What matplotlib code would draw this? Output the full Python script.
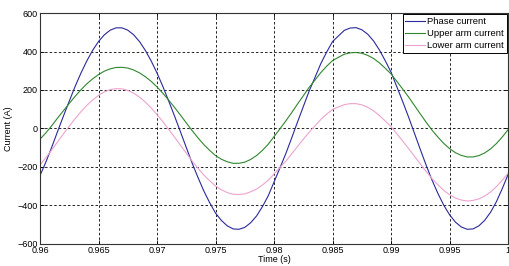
import numpy as np
import matplotlib
matplotlib.use('Agg')
import matplotlib.pyplot as plt

# time axis (s), 0.5 ms samples
time_s = [0.960 + 0.0005 * i for i in range(81)]

phase_current = [-245, -175, -98, -16, 64, 142, 218, 288, 351, 406,
                 452, 487, 511, 523, 523, 511, 487, 452, 406, 351,
                 288, 218, 142, 64, -17, -99, -180, -255, -325, -386,
                 -440, -478, -506, -522, -524, -514, -490, -455, -407, -350,
                 -278, -205, -131, -50, 33, 114, 195, 266, 338, 398,
                 452, 481, 510, 522, 524, 513, 490, 455, 408, 352,
                 292, 215, 138, 58, -26, -110, -192, -269, -338, -399,
                 -449, -487, -512, -524, -522, -506, -477, -435, -380, -312,
                 -238]

upper_arm_current = [-56, -23, 14, 54, 92, 130, 167, 201, 232, 258,
                     280, 298, 310, 317, 318, 314, 304, 289, 269, 245,
                     216, 183, 147, 109, 70, 29, -11, -49, -84, -114,
                     -141, -160, -173, -181, -181, -175, -161, -141, -114, -82,
                     -42, -2, 39, 82, 127, 170, 214, 252, 291, 324,
                     353, 370, 386, 393, 395, 391, 380, 364, 341, 313,
                     283, 244, 204, 163, 119, 75, 32, -9, -45, -78,
                     -105, -126, -140, -148, -148, -141, -127, -106, -78, -44,
                     -6]

lower_arm_current = [-189, -152, -112, -70, -28, 12, 51, 87, 120, 148,
                     172, 190, 202, 207, 206, 198, 184, 163, 137, 107,
                     72, 35, -5, -45, -87, -128, -169, -207, -242, -272,
                     -299, -319, -333, -342, -343, -340, -329, -315, -294, -269,
                     -236, -203, -170, -132, -94, -56, -19, 14, 47, 75,
                     99, 112, 124, 129, 129, 123, 110, 92, 67, 39,
                     9, -29, -66, -105, -145, -185, -224, -261, -293, -322,
                     -345, -362, -372, -377, -374, -366, -351, -330, -302, -269,
                     -232]

x_ticks = [0.96, 0.965, 0.97, 0.975, 0.98, 0.985, 0.99, 0.995, 1.0]
x_tick_labels = ["0.96", "0.965", "0.97", "0.975", "0.98", "0.985", "0.99", "0.995", "1"]
y_ticks = [-600, -400, -200, 0, 200, 400, 600]


def main():
    plt.rcParams['font.family'] = ['Liberation Sans', 'DejaVu Sans']
    fig = plt.figure(figsize=(5.10, 2.66), dpi=100)
    ax = fig.add_axes([0.0784, 0.083, 0.918, 0.868])

    ax.plot(time_s, phase_current, color='#2a2a9c', lw=0.8, label='Phase current')
    ax.plot(time_s, upper_arm_current, color='#2f872f', lw=0.8, label='Upper arm current')
    ax.plot(time_s, lower_arm_current, color='#eda3cf', lw=0.8, label='Lower arm current')

    ax.set_xlim(0.96, 1.0)
    ax.set_ylim(-600, 600)
    ax.set_xticks(x_ticks)
    ax.set_xticklabels(x_tick_labels)
    ax.set_yticks(y_ticks)

    ax.grid(True, color='black', linestyle=(0, (3, 2.5)), lw=0.6)
    ax.tick_params(direction='in', length=3, width=0.6, labelsize=6.5, pad=1.5,
                   top=True, right=True)
    for s in ax.spines.values():
        s.set_linewidth(0.8)
        s.set_color('#333333')

    ax.set_xlabel('Time (s)', fontsize=6.5, labelpad=0)
    ax.set_ylabel('Current (A)', fontsize=6.5, labelpad=3)

    leg = ax.legend(loc='upper right', fontsize=6.8, frameon=True, fancybox=False,
                    handlelength=2.1, handletextpad=0.2, labelspacing=0.3,
                    borderaxespad=0.15, borderpad=0.3)
    leg.get_frame().set_edgecolor('black')
    leg.get_frame().set_linewidth(0.7)
    leg.get_frame().set_alpha(1.0)

    fig.savefig('out.png', dpi=100)


if __name__ == "__main__":
    main()
